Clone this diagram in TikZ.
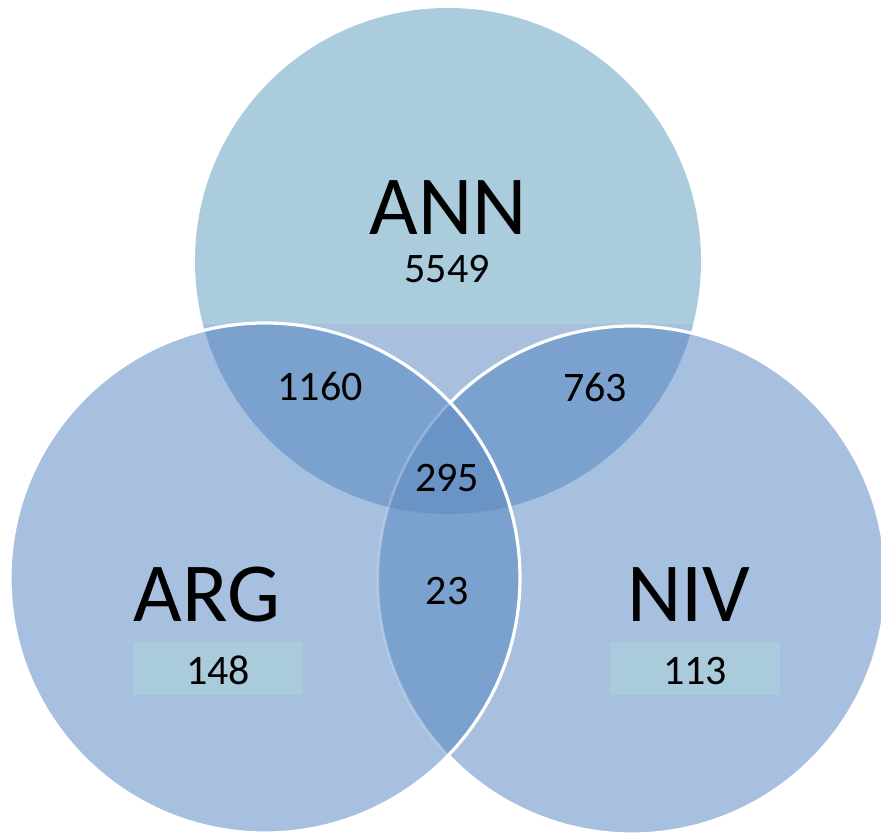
\documentclass[tikz,border=0pt]{standalone}
\usepackage{fontspec}
\newfontfamily\calib{Carlito}
\definecolor{anncol}{HTML}{AACCDC}
\definecolor{lowcol}{HTML}{A8C0DE}
\definecolor{setcol}{HTML}{A8C0DF}
\definecolor{paircol}{HTML}{7BA2CE}
\definecolor{triplecol}{HTML}{6A93C6}
\definecolor{boxcol}{HTML}{AACBDB}
\tikzset{
  biglabel/.style={inner sep=0pt, anchor=base, text depth=0pt, font=\calib\fontsize{84}{90}\selectfont},
  numlabel/.style={inner sep=0pt, anchor=base, text depth=0pt, font=\calib\fontsize{42}{48}\selectfont},
  wline/.style={draw=white, line width=3.2pt},
  faintline/.style={draw=white, draw opacity=0.25, line width=2.5pt},
  numbox/.style={fill=boxcol, draw=none}
}
\begin{document}
\begin{tikzpicture}[x=1pt,y=1pt]
\useasboundingbox (0,0) rectangle (881,835);
\coordinate (annc) at (448,574);
\coordinate (argc) at (265,257);
\coordinate (nivc) at (632,255);
% base fills
\fill[anncol] (annc) circle[radius=253];
\begin{scope}
  \clip (annc) circle[radius=253];
  \fill[lowcol] (0,0) rectangle (881,511);
\end{scope}
\fill[setcol] (argc) circle[radius=255];
\fill[setcol] (nivc) circle[radius=254];
% pairwise overlaps
\begin{scope}
  \clip (annc) circle[radius=253];
  \fill[paircol] (argc) circle[radius=255];
  \fill[paircol] (nivc) circle[radius=254];
\end{scope}
\begin{scope}
  \clip (argc) circle[radius=255];
  \fill[paircol] (nivc) circle[radius=254];
\end{scope}
% triple overlap
\begin{scope}
  \clip (annc) circle[radius=253];
  \clip (argc) circle[radius=255];
  \fill[triplecol] (nivc) circle[radius=254];
\end{scope}
% borders
\draw[wline] (nivc) ++(223.6:254) arc[start angle=223.6, end angle=495.7, radius=254];
\draw[faintline] (nivc) ++(135.7:254) arc[start angle=135.7, end angle=223.6, radius=254];
\draw[wline] (argc) circle[radius=255];
% boxes
\fill[numbox] (133,140) rectangle (303,193);
\fill[numbox] (610,140) rectangle (780,193);
% labels
\node[biglabel] (annlab) at (448,600) {ANN};
\node[numlabel] (annnum) at (447,552) {5549};
\node[numlabel] (annarg) at (320,434) {1160};
\node[numlabel] (annniv) at (595,433) {763};
\node[numlabel] (allthree) at (447,343) {295};
\node[numlabel] (argniv) at (447,230) {23};
\node[biglabel] (arglab) at (207,213) {ARG};
\node[biglabel] (nivlab) at (689,213) {NIV};
\node[numlabel] (argnum) at (218,150) {148};
\node[numlabel] (nivnum) at (695,150) {113};
\end{tikzpicture}
\end{document}
